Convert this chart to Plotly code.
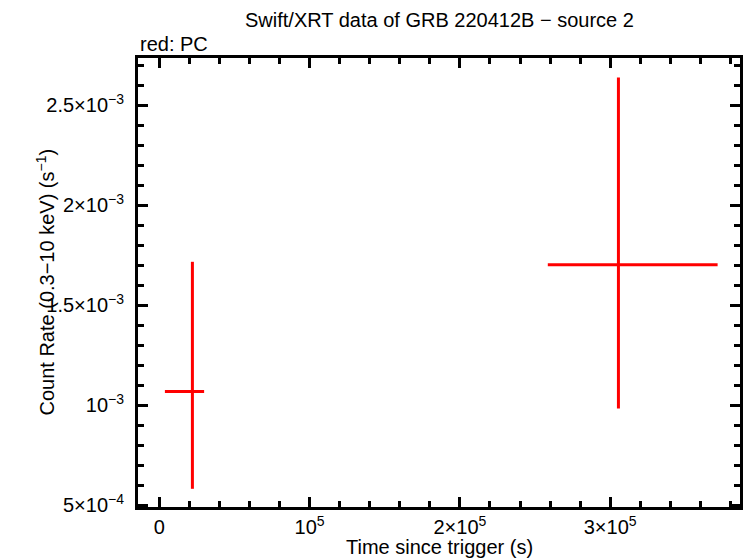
import plotly.graph_objects as go

# Data
t_mid = [22000, 305500]
t_lo = [3700, 258500]
t_hi = [29800, 371500]
rate = [1.07e-3, 1.703e-3]
rate_lo = [5.83e-4, 0.985e-3]
rate_hi = [1.718e-3, 2.64e-3]

x_tickvals = [0, 1e5, 2e5, 3e5]
x_ticktext = ["0", "10<sup>5</sup>", "2×10<sup>5</sup>", "3×10<sup>5</sup>"]
y_tickvals = [5e-4, 1e-3, 1.5e-3, 2e-3, 2.5e-3]
y_ticktext = ["5×10<sup>−4</sup>", "10<sup>−3</sup>", "1.5×10<sup>−3</sup>",
              "2×10<sup>−3</sup>", "2.5×10<sup>−3</sup>"]

FONT = "Liberation Sans, Arial, Helvetica, sans-serif"

fig = go.Figure()
fig.add_trace(go.Scatter(
    x=t_mid, y=rate, mode="markers",
    marker=dict(size=1, color="red"),
    error_x=dict(type="data", symmetric=False,
                 array=[h - m for h, m in zip(t_hi, t_mid)],
                 arrayminus=[m - l for m, l in zip(t_mid, t_lo)],
                 color="red", thickness=3, width=0),
    error_y=dict(type="data", symmetric=False,
                 array=[h - m for h, m in zip(rate_hi, rate)],
                 arrayminus=[m - l for m, l in zip(rate, rate_lo)],
                 color="red", thickness=3, width=0),
    showlegend=False,
    hoverinfo="skip",
))

axis_common = dict(
    showline=True, linecolor="black", linewidth=3, mirror="allticks",
    ticks="inside", ticklen=10, tickwidth=3, tickcolor="black",
    showgrid=False, zeroline=False,
    tickfont=dict(family=FONT, size=20, color="black"),
)

fig.update_xaxes(
    range=[-14200, 386400],
    tickmode="array", tickvals=x_tickvals, ticktext=x_ticktext,
    minor=dict(ticks="inside", ticklen=6, tickwidth=3, tickcolor="black",
               tickmode="linear", tick0=0, dtick=2e4, showgrid=False),
    **axis_common,
)
fig.update_yaxes(
    range=[4.92e-4, 2.737e-3],
    tickmode="array", tickvals=y_tickvals, ticktext=y_ticktext,
    ticklabelstandoff=7,
    minor=dict(ticks="inside", ticklen=6, tickwidth=3, tickcolor="black",
               tickmode="linear", tick0=0, dtick=1e-4, showgrid=False),
    **axis_common,
)

fig.update_layout(
    width=746, height=558,
    margin=dict(l=138, r=3, t=58, b=51),
    paper_bgcolor="white", plot_bgcolor="white",
    font=dict(family=FONT, size=20, color="black"),
    annotations=[
        dict(text="Swift/XRT data of GRB 220412B − source 2",
             xref="paper", yref="paper", x=0.5, y=1, yshift=38,
             xanchor="center", yanchor="middle", showarrow=False,
             font=dict(family=FONT, size=20)),
        dict(text="red: PC", xref="paper", yref="paper", x=0, y=1, yshift=14,
             xanchor="left", yanchor="middle", showarrow=False,
             font=dict(family=FONT, size=20)),
        dict(text="Time since trigger (s)", xref="paper", yref="paper",
             x=0.5, y=0, yshift=-40, xanchor="center", yanchor="middle",
             showarrow=False, font=dict(family=FONT, size=20)),
        dict(text="Count Rate (0.3−10 keV) (s<sup>−1</sup>)", xref="paper",
             yref="paper", x=0, y=0.5, xshift=-93, xanchor="center",
             yanchor="middle", textangle=-90, showarrow=False,
             font=dict(family=FONT, size=20)),
    ],
)

fig.write_html("out.html", config={"displayModeBar": False},
               post_script="document.body.style.margin='0';")
